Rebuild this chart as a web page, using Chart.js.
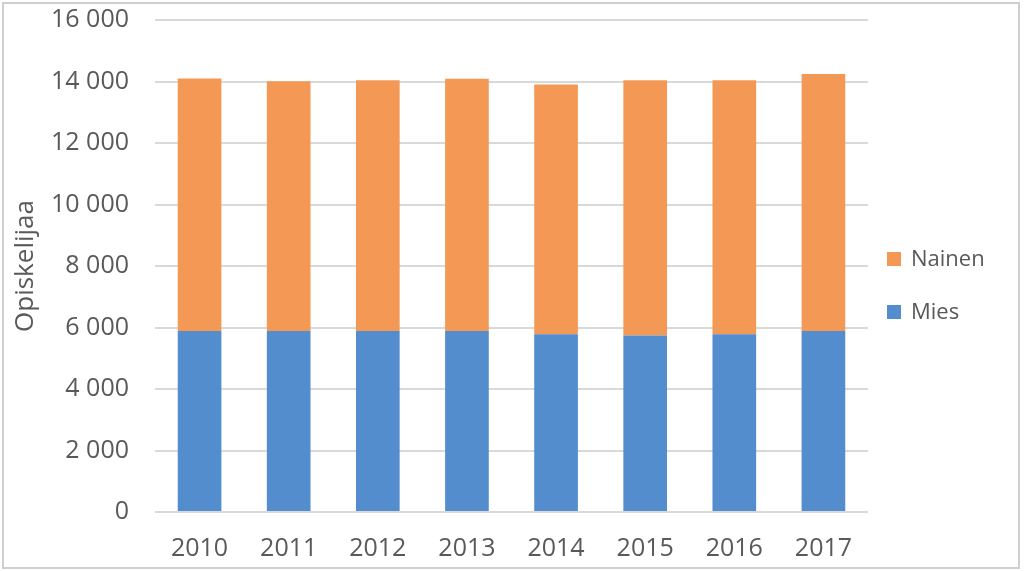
<!DOCTYPE html>
<html>
<head>
<meta charset="utf-8">
<script src="https://cdn.jsdelivr.net/npm/chart.js@4/dist/chart.umd.min.js"></script>
<style>
  html, body { margin: 0; padding: 0; background: #ffffff; }
  #wrap { position: relative; width: 1024px; height: 571px; }
  #frame { position: absolute; left: 2px; top: 2px; width: 1014px; height: 563px; border: 2px solid #cfcfcf; pointer-events: none; }
  canvas { position: absolute; left: 0; top: 0; }
</style>
</head>
<body>
<div id="wrap">
  <canvas id="c" width="1024" height="571"></canvas>
  <div id="frame"></div>
</div>
<script>
const categories = ['2010', '2011', '2012', '2013', '2014', '2015', '2016', '2017'];
const miesValues = [5890, 5890, 5890, 5890, 5780, 5740, 5780, 5890];
const nainenValues = [8210, 8120, 8150, 8200, 8120, 8300, 8260, 8350];
const seriesNames = ['Mies', 'Nainen'];
const seriesColors = ['#538dce', '#f39955'];
const yTickLabels = ['0', '2 000', '4 000', '6 000', '8 000', '10 000', '12 000', '14 000', '16 000'];
const yTitle = 'Opiskelijaa';

const FONT = "'Open Sans', 'Liberation Sans', sans-serif";
const TEXT = '#595959';

const customLegend = {
  id: 'customLegend',
  afterDraw(chart) {
    const ctx = chart.ctx;
    const ds = chart.data.datasets.slice().reverse();
    const x0 = chart.chartArea.right + 19;
    const midY = chart.height / 2;
    const step = 53;
    ctx.save();
    ctx.font = '22px ' + FONT;
    ctx.textBaseline = 'middle';
    ctx.textAlign = 'left';
    ds.forEach((d, i) => {
      const cy = midY + (i - (ds.length - 1) / 2) * step;
      ctx.fillStyle = d.backgroundColor;
      ctx.fillRect(x0, cy - 7, 14, 14);
      ctx.fillStyle = TEXT;
      ctx.fillText(d.label, x0 + 24, cy + 1);
    });
    ctx.restore();
  }
};

new Chart(document.getElementById('c'), {
  type: 'bar',
  data: {
    labels: categories,
    datasets: [
      { label: seriesNames[0], data: miesValues, backgroundColor: seriesColors[0], borderWidth: 0 },
      { label: seriesNames[1], data: nainenValues, backgroundColor: seriesColors[1], borderWidth: 0 }
    ]
  },
  options: {
    responsive: false,
    devicePixelRatio: 1,
    animation: false,
    events: [],
    layout: { padding: { left: 0, top: 20, right: 156, bottom: 0 } },
    datasets: { bar: { barPercentage: 0.49, categoryPercentage: 1.0 } },
    plugins: {
      legend: { display: false },
      tooltip: { enabled: false },
      title: { display: false }
    },
    scales: {
      x: {
        stacked: true,
        offset: true,
        grid: { display: false, drawTicks: false },
        border: { display: false },
        ticks: { color: TEXT, font: { family: FONT, size: 25 }, padding: 22, maxRotation: 0 },
        afterFit(scale) { scale.height = 59; }
      },
      y: {
        stacked: true,
        min: 0,
        max: 16000,
        grid: { color: '#d9d9d9', lineWidth: 2, drawTicks: true, tickLength: 26, tickColor: 'rgba(0,0,0,0)' },
        border: { display: false },
        ticks: {
          stepSize: 2000,
          color: TEXT,
          font: { family: FONT, size: 25 },
          padding: 0,
          callback: (value, index) => yTickLabels[index]
        },
        title: {
          display: true,
          text: yTitle,
          color: TEXT,
          font: { family: FONT, size: 26 },
          padding: { top: 10, bottom: 0 }
        },
        afterFit(scale) { scale.width = 155; }
      }
    }
  },
  plugins: [customLegend]
});
</script>
</body>
</html>
